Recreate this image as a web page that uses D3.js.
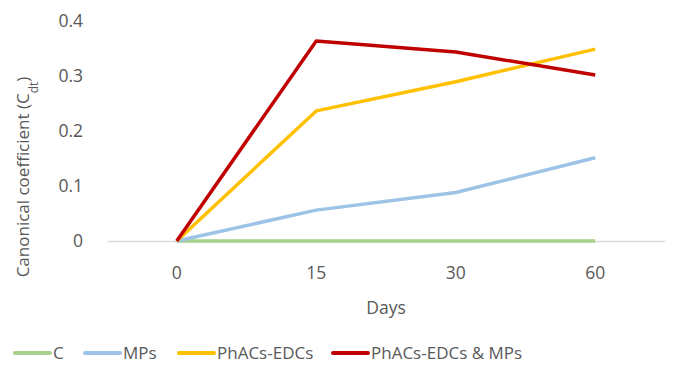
<!DOCTYPE html>
<html><head><meta charset="utf-8">
<script src="https://cdn.jsdelivr.net/npm/d3@7/dist/d3.min.js"></script>
<style>body{margin:0;background:#fff}svg{display:block}text{font-family:"Open Sans",sans-serif;fill:#595959}</style>
</head><body><svg id="c" width="696" height="375"></svg>
<script>
const days = ["0","15","30","60"];
const seriesNames = ["C","MPs","PhACs-EDCs","PhACs-EDCs & MPs"];
const valC = [0,0,0,0];
const valMPs = [0,0.056,0.088,0.151];
const valPhACs = [0,0.236,0.289,0.348];
const valBoth = [0,0.363,0.343,0.301];
const yTicks = [0,0.1,0.2,0.3,0.4];
const colors = ["#A9D18E","#9DC3E6","#FFC000","#C00000"];
const series = [valC,valMPs,valPhACs,valBoth];

const svg = d3.select("#c");
const x = d3.scaleBand().domain(days).range([107,665]);
const y = d3.scaleLinear().domain([0,0.4]).range([241,20.5]);
const fs = 17.5;
const ff = "'Open Sans',sans-serif";

const ya = svg.append("g").attr("transform","translate(83,0)")
  .call(d3.axisLeft(y).tickValues(yTicks).tickSize(0).tickPadding(0).tickFormat(d=>d===0?"0":d3.format(".1f")(d)));
ya.select(".domain").remove();
ya.selectAll("text").style("font-size",fs+"px").attr("fill","#595959").style("font-family",ff);

const xa = svg.append("g").attr("transform",`translate(0,${y(0)})`)
  .call(d3.axisBottom(x).tickSize(0).tickPadding(26));
xa.select(".domain").attr("stroke","#d9d9d9").attr("stroke-width",1.3);
xa.selectAll("text").style("font-size",fs+"px").attr("fill","#595959").style("font-family",ff);

const line = d3.line().x((d,i)=>x(days[i])+x.bandwidth()/2).y(d=>y(d));
series.forEach((s,k)=>{
  svg.append("path").datum(s).attr("d",line).attr("fill","none")
    .attr("stroke",colors[k]).attr("stroke-width",3.5).attr("stroke-linejoin","round");
});

svg.append("text").attr("x",(x.range()[0]+x.range()[1])/2).attr("y",308).attr("dy","0.35em")
  .attr("text-anchor","middle").style("font-size",fs+"px").text("Days");
const yt = svg.append("text").attr("transform","translate(23,177) rotate(-90)").attr("dy","0.35em")
  .attr("text-anchor","middle").style("font-size","17px");
yt.append("tspan").text("Canonical coefficient  (C");
yt.append("tspan").attr("baseline-shift","sub").style("font-size","12px").text("dt");
yt.append("tspan").text(")");

const legX = [15,85,179,333];
const leg = svg.append("g");
seriesNames.forEach((n,k)=>{
  leg.append("line").attr("x1",legX[k]).attr("x2",legX[k]+35).attr("y1",353).attr("y2",353)
    .attr("stroke",colors[k]).attr("stroke-width",4).attr("stroke-linecap","round");
  leg.append("text").attr("x",legX[k]+38).attr("y",353).attr("dy","0.35em").style("font-size","17px").text(n);
});
</script></body></html>
